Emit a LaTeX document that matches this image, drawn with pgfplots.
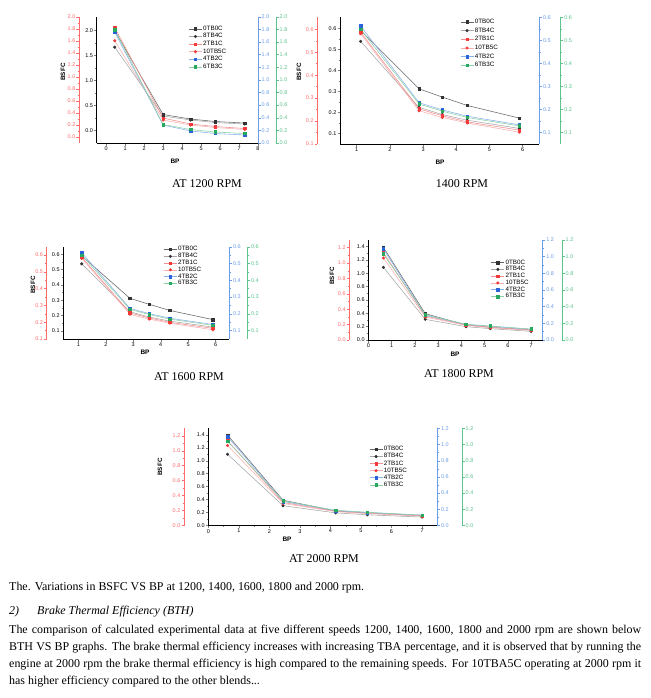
\documentclass[border=0pt]{standalone}
\usepackage{fontspec}
\setmainfont{Liberation Serif}
\newfontfamily\arial{Liberation Sans}
\usepackage{pgfplots}
\pgfplotsset{compat=1.18}

\definecolor{axred}{HTML}{FF6B6B}
\definecolor{axblue}{HTML}{6A9EEA}
\definecolor{axgreen}{HTML}{5CC48C}
\definecolor{mkblack}{HTML}{333333}
\definecolor{lnblack}{HTML}{666666}
\definecolor{lngray}{HTML}{A8A8A8}
\definecolor{mkred}{HTML}{F23A3A}
\definecolor{lnred}{HTML}{F58E8E}
\definecolor{lnred2}{HTML}{F9B0B0}
\definecolor{mkblue}{HTML}{2B63D9}
\definecolor{lnblue}{HTML}{86B2EC}
\definecolor{mkgreen}{HTML}{27A85E}
\definecolor{lngreen}{HTML}{8CD0A6}

\pgfplotsset{
  base/.style={scale only axis, tick align=outside,
    major tick length=2.5bp, minor tick length=1.4bp,
    /pgf/number format/assume math mode=true,
    tick label style={font=\arial\fontsize{5.5}{6}\selectfont, inner sep=1bp},
    axis line style={-, line width=0.5bp},
    every tick/.append style={line width=0.4bp},
    yticklabel style={/pgf/number format/fixed, /pgf/number format/fixed zerofill, /pgf/number format/precision=1},
    clip=false},
  main/.style={base, axis x line*=bottom, axis y line*=left,
    minor x tick num=1, minor y tick num=1,
    xticklabel style={/pgf/number format/precision=0},
    every axis plot/.append style={line width=0.55bp, mark size=1.25bp},
    legend style={draw=none, fill=none, font=\arial\fontsize{6.3}{6.3}\selectfont,
      anchor=north west, row sep=-0.3bp, inner sep=0.5bp,
      nodes={inner sep=1bp}},
    legend cell align=left,
    legend image code/.code={\draw[##1, mark repeat=2, mark phase=2]
      plot coordinates {(0bp,0bp) (6.5bp,0bp) (13bp,0bp)};}},
  side/.style={base, hide x axis, xmin=0, xmax=1, width=10bp, minor y tick num=1},
  sred/.style={side, axis y line*=left, anchor=south west,
    y axis line style={axred}, y tick style={axred}, yticklabel style={text=axred}},
  sblue/.style={side, axis y line*=right, anchor=south east,
    y axis line style={axblue}, y tick style={axblue}, yticklabel style={text=axblue}},
  sgreen/.style={side, axis y line*=right, anchor=south east,
    y axis line style={axgreen}, y tick style={axgreen}, yticklabel style={text=axgreen}},
  s1/.style={color=lnblack, mark=square*, mark options={draw=mkblack, fill=mkblack}},
  s2/.style={color=lngray, mark=*, mark options={draw=mkblack, fill=mkblack}},
  s3/.style={color=lnred, mark=square*, mark options={draw=mkred, fill=mkred}},
  s4/.style={color=lnred2, mark=*, mark options={draw=mkred, fill=mkred}},
  s5/.style={color=lnblue, mark=square*, mark options={draw=mkblue, fill=mkblue}},
  s6/.style={color=lngreen, mark=square*, mark options={draw=mkgreen, fill=mkgreen}},
}

\tikzset{
  ylab/.style={rotate=90, font=\arial\bfseries\fontsize{6.3}{6.3}\selectfont, inner sep=0},
  xlab/.style={font=\arial\bfseries\fontsize{6.5}{6.5}\selectfont, inner sep=0},
  capt/.style={anchor=base, inner sep=0, font=\fontsize{12}{14}\selectfont},
  txt/.style={anchor=base west, inner sep=0, font=\fontsize{12}{14}\selectfont},
}

\begin{document}
\begin{tikzpicture}
\fill[white] (0bp,0bp) rectangle (651bp,-698bp);
\useasboundingbox (0bp,0bp) rectangle (651bp,-698bp);

% ---------------- 1200 rpm
\begin{axis}[sred, at={(79bp,-143bp)}, height=126.3bp,
  ymin=-0.1, ymax=2.0, ytick={0,0.2,...,2.01}]
\end{axis}
\begin{axis}[sblue, at={(258bp,-143bp)}, height=126.3bp,
  ymin=0, ymax=2.0, ytick={0,0.2,...,2.01}]
\end{axis}
\begin{axis}[sgreen, at={(276bp,-143bp)}, height=126.3bp,
  ymin=0, ymax=2.0, ytick={0,0.2,...,2.01}]
\end{axis}
\begin{axis}[main, at={(96.7bp,-143bp)}, width=161.3bp, height=126.3bp,
  xmin=-0.5, xmax=8, ymin=-0.25, ymax=2.28,
  xtick={0,...,8}, ytick={0,0.5,...,2.01},
  legend style={at={(0.566,0.94)}}]
\addplot[s1] coordinates {(0.45,2.00) (3,0.32) (4.45,0.23) (5.75,0.18) (7.3,0.15)};
\addplot[s2] coordinates {(0.45,1.67) (3,0.29) (4.45,0.21) (5.75,0.16) (7.3,0.13)};
\addplot[s3] coordinates {(0.45,2.06) (3,0.25) (4.45,0.13) (5.75,0.08) (7.3,0.04)};
\addplot[s4] coordinates {(0.45,1.80) (3,0.21) (4.45,0.11) (5.75,0.06) (7.3,0.02)};
\addplot[s5] coordinates {(0.45,1.97) (3,0.11) (4.45,-0.01) (5.75,-0.06) (7.3,-0.09)};
\addplot[s6] coordinates {(0.45,2.02) (3,0.12) (4.45,0.02) (5.75,-0.03) (7.3,-0.06)};
\legend{0TB0C,8TB4C,2TB1C,10TB5C,4TB2C,6TB3C}
\end{axis}
\node[ylab] at (63bp,-72bp) {BSFC};
\node[xlab] at (175bp,-161bp) {BP};
\node[capt] at (207bp,-187bp) {AT 1200 RPM};

% ---------------- 1400 rpm
\begin{axis}[sred, at={(317.3bp,-144bp)}, height=126.7bp,
  ymin=0.1, ymax=0.652, ytick={0.1,0.2,...,0.61}]
\end{axis}
\begin{axis}[sblue, at={(539.3bp,-144bp)}, height=126.7bp,
  ymin=0.05, ymax=0.6, ytick={0.1,0.2,...,0.61}]
\end{axis}
\begin{axis}[sgreen, at={(560.7bp,-144bp)}, height=126.7bp,
  ymin=0.05, ymax=0.6, ytick={0.1,0.2,...,0.61}]
\end{axis}
\begin{axis}[main, at={(340bp,-144bp)}, width=199.3bp, height=126.7bp,
  xmin=0.5, xmax=6.5, ymin=0.05, ymax=0.652,
  xtick={1,...,6}, ytick={0.1,0.2,...,0.61},
  legend style={at={(0.6,1.0)}, row sep=0.8bp}]
\addplot[s1] coordinates {(1.12,0.590) (2.88,0.312) (3.58,0.273) (4.33,0.233) (5.9,0.173)};
\addplot[s2] coordinates {(1.12,0.538) (2.88,0.224) (3.58,0.190) (4.33,0.163) (5.9,0.124)};
\addplot[s3] coordinates {(1.12,0.582) (2.88,0.217) (3.58,0.184) (4.33,0.155) (5.9,0.116)};
\addplot[s4] coordinates {(1.12,0.574) (2.88,0.208) (3.58,0.176) (4.33,0.150) (5.9,0.106)};
\addplot[s5] coordinates {(1.12,0.611) (2.88,0.246) (3.58,0.212) (4.33,0.182) (5.9,0.141)};
\addplot[s6] coordinates {(1.12,0.595) (2.88,0.240) (3.58,0.206) (4.33,0.176) (5.9,0.136)};
\legend{0TB0C,8TB4C,2TB1C,10TB5C,4TB2C,6TB3C}
\end{axis}
\node[ylab] at (299bp,-72bp) {BSFC};
\node[xlab] at (440bp,-162bp) {BP};
\node[capt] at (462bp,-187bp) {1400 RPM};

% ---------------- 1600 rpm
\begin{axis}[sred, at={(46.7bp,-339bp)}, height=92.3bp,
  ymin=0.1, ymax=0.65, ytick={0.1,0.2,...,0.61}]
\end{axis}
\begin{axis}[sblue, at={(229.3bp,-339bp)}, height=92.3bp,
  ymin=0.05, ymax=0.6, ytick={0.1,0.2,...,0.61}]
\end{axis}
\begin{axis}[sgreen, at={(247.3bp,-339bp)}, height=92.3bp,
  ymin=0.05, ymax=0.6, ytick={0.1,0.2,...,0.61}]
\end{axis}
\begin{axis}[main, at={(63.3bp,-339bp)}, width=166bp, height=92.3bp,
  xmin=0.45, xmax=6.5, ymin=0.046, ymax=0.65,
  xtick={1,...,6}, ytick={0.1,0.2,...,0.61},
  legend style={at={(0.6,1.02)}, row sep=-1.1bp}]
\addplot[s1] coordinates {(1.12,0.590) (2.88,0.312) (3.58,0.273) (4.33,0.233) (5.9,0.173)};
\addplot[s2] coordinates {(1.12,0.538) (2.88,0.224) (3.58,0.190) (4.33,0.163) (5.9,0.124)};
\addplot[s3] coordinates {(1.12,0.582) (2.88,0.217) (3.58,0.184) (4.33,0.155) (5.9,0.116)};
\addplot[s4] coordinates {(1.12,0.574) (2.88,0.208) (3.58,0.176) (4.33,0.150) (5.9,0.106)};
\addplot[s5] coordinates {(1.12,0.611) (2.88,0.246) (3.58,0.212) (4.33,0.182) (5.9,0.141)};
\addplot[s6] coordinates {(1.12,0.595) (2.88,0.240) (3.58,0.206) (4.33,0.176) (5.9,0.136)};
\legend{0TB0C,8TB4C,2TB1C,10TB5C,4TB2C,6TB3C}
\end{axis}
\node[ylab] at (33bp,-285bp) {BSFC};
\node[xlab] at (145bp,-352bp) {BP};
\node[capt] at (189bp,-380bp) {AT 1600 RPM};

% ---------------- 1800 rpm
\begin{axis}[sred, at={(349.3bp,-340bp)}, height=100bp,
  ymin=0, ymax=1.3, ytick={0,0.2,...,1.21}]
\end{axis}
\begin{axis}[sblue, at={(542.7bp,-340bp)}, height=100bp,
  ymin=0, ymax=1.2, ytick={0,0.2,...,1.21}]
\end{axis}
\begin{axis}[sgreen, at={(562bp,-340bp)}, height=100bp,
  ymin=0, ymax=1.2, ytick={0,0.2,...,1.21}]
\end{axis}
\begin{axis}[main, at={(368.3bp,-340bp)}, width=174.4bp, height=100bp,
  xmin=0, xmax=7.5, ymin=0, ymax=1.5,
  xtick={0,...,7}, ytick={0,0.2,...,1.41},
  legend style={at={(0.7,0.82)}, row sep=-1.1bp}]
\addplot[s1] coordinates {(0.65,1.390) (2.45,0.395) (4.2,0.225) (5.25,0.190) (7,0.150)};
\addplot[s2] coordinates {(0.65,1.090) (2.45,0.310) (4.2,0.200) (5.25,0.170) (7,0.130)};
\addplot[s3] coordinates {(0.65,1.310) (2.45,0.360) (4.2,0.225) (5.25,0.190) (7,0.150)};
\addplot[s4] coordinates {(0.65,1.230) (2.45,0.345) (4.2,0.220) (5.25,0.185) (7,0.145)};
\addplot[s5] coordinates {(0.65,1.365) (2.45,0.370) (4.2,0.235) (5.25,0.205) (7,0.160)};
\addplot[s6] coordinates {(0.65,1.290) (2.45,0.380) (4.2,0.235) (5.25,0.210) (7,0.165)};
\legend{0TB0C,8TB4C,2TB1C,10TB5C,4TB2C,6TB3C}
\end{axis}
\node[ylab] at (332bp,-276bp) {BSFC};
\node[xlab] at (455bp,-354bp) {BP};
\node[capt] at (459bp,-377bp) {AT 1800 RPM};

% ---------------- 2000 rpm
\begin{axis}[sred, at={(184bp,-525.5bp)}, height=97.2bp,
  ymin=0, ymax=1.3, ytick={0,0.2,...,1.21}]
\end{axis}
\begin{axis}[sblue, at={(437.3bp,-525.5bp)}, height=97.2bp,
  ymin=0, ymax=1.2, ytick={0,0.2,...,1.21}]
\end{axis}
\begin{axis}[sgreen, at={(462bp,-525.5bp)}, height=97.2bp,
  ymin=0, ymax=1.2, ytick={0,0.2,...,1.21}]
\end{axis}
\begin{axis}[main, at={(208.3bp,-525.5bp)}, width=229bp, height=97.2bp,
  xmin=0, xmax=7.5, ymin=0, ymax=1.5,
  xtick={0,...,7}, ytick={0,0.2,...,1.41},
  legend style={at={(0.7,0.83)}, row sep=-0.8bp}]
\addplot[s1] coordinates {(0.63,1.395) (2.45,0.390) (4.17,0.225) (5.21,0.190) (7,0.150)};
\addplot[s2] coordinates {(0.63,1.100) (2.45,0.305) (4.17,0.195) (5.21,0.165) (7,0.130)};
\addplot[s3] coordinates {(0.63,1.310) (2.45,0.355) (4.17,0.220) (5.21,0.190) (7,0.150)};
\addplot[s4] coordinates {(0.63,1.235) (2.45,0.340) (4.17,0.215) (5.21,0.185) (7,0.145)};
\addplot[s5] coordinates {(0.63,1.370) (2.45,0.370) (4.17,0.230) (5.21,0.200) (7,0.160)};
\addplot[s6] coordinates {(0.63,1.300) (2.45,0.380) (4.17,0.235) (5.21,0.205) (7,0.160)};
\legend{0TB0C,8TB4C,2TB1C,10TB5C,4TB2C,6TB3C}
\end{axis}
\node[ylab] at (160bp,-467bp) {BSFC};
\node[xlab] at (287bp,-539bp) {BP};
\node[capt] at (324bp,-562bp) {AT 2000 RPM};

% ---------------- text below
\node[txt] at (9bp,-590bp) {The. Variations in BSFC VS BP at 1200, 1400, 1600, 1800 and 2000 rpm.};
\node[txt] at (9bp,-614bp) {\itshape 2)};
\node[txt] at (37bp,-614bp) {\itshape Brake Thermal Efficiency (BTH)};
\node[txt] at (9bp,-633bp) {\makebox[632bp][s]{The comparison of calculated experimental data at five different speeds 1200, 1400, 1600, 1800 and 2000 rpm are shown below}};
\node[txt] at (9bp,-650bp) {\makebox[632bp][s]{BTH VS BP graphs. The brake thermal efficiency increases with increasing TBA percentage, and it is observed that by running the}};
\node[txt] at (9bp,-667bp) {\makebox[632bp][s]{engine at 2000 rpm the brake thermal efficiency is high compared to the remaining speeds. For 10TBA5C operating at 2000 rpm it}};
\node[txt] at (9bp,-684bp) {has higher efficiency compared to the other blends...};
\end{tikzpicture}
\end{document}
